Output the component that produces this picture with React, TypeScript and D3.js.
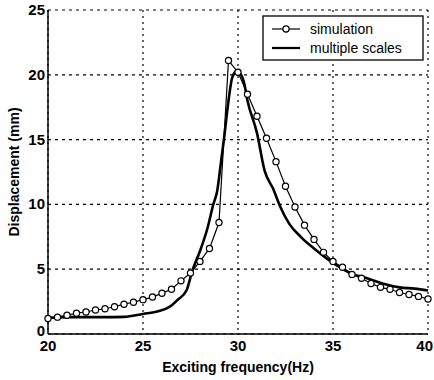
import React from "react";
import * as d3 from "d3";

const simFreq = [20,20.5,21,21.5,22,22.5,23,23.5,24,24.5,25,25.5,26,26.5,27,27.5,28,28.5,29,29.5,30,30.5,31,31.5,32,32.5,33,33.5,34,34.5,35,35.5,36,36.5,37,37.5,38,38.5,39,39.5,40];
const simDisp = [1.2,1.3,1.45,1.6,1.7,1.85,1.95,2.1,2.3,2.45,2.65,2.85,3.15,3.45,4.1,4.7,5.6,6.6,8.6,21.1,20.2,18.5,16.8,15.1,13.3,11.4,9.8,8.4,7.3,6.3,5.6,5.15,4.6,4.3,3.9,3.6,3.45,3.2,3.05,2.9,2.7];

const msFreq = [20,21,22,23,24,25,25.8,26.5,26.8,27.3,27.6,28,28.4,28.7,28.9,29.1,29.3,29.5,29.7,29.95,30.3,30.5,31,31.4,31.85,32.2,32.7,33.3,34,34.7,35.2,35.9,36.8,37.6,38.5,39.3,40];
const msDisp = [1.25,1.3,1.3,1.3,1.32,1.55,1.75,2.2,2.6,3.4,4.9,6.4,8.2,10,11,13.2,15.5,18,19.8,20.3,19.5,18,15.5,12.6,11.2,9.9,8.5,7.5,6.6,5.8,5.3,4.7,4.3,3.9,3.6,3.5,3.35];

const xTicks = [20,25,30,35,40];
const yTicks = [0,5,10,15,20,25];

const W = 434, H = 380;
const left = 48, right = 428, top = 10, bottom = 334;

export default function App() {
  const x = d3.scaleLinear().domain([20, 40]).range([left, right]);
  const y = d3.scaleLinear().domain([0, 25]).range([bottom, top]);
  const lineGen = d3.line<[number, number]>().x(d => x(d[0])).y(d => y(d[1]));
  const smoothGen = d3.line<[number, number]>().x(d => x(d[0])).y(d => y(d[1])).curve(d3.curveMonotoneX);
  const simPts: [number, number][] = simFreq.map((f, i) => [f, simDisp[i]]);
  const msPts: [number, number][] = msFreq.map((f, i) => [f, msDisp[i]]);
  const font = "Liberation Sans, Arial, sans-serif";
  return (
    <svg width={W} height={H} style={{ position: "absolute", left: 0, top: 0, background: "#fff" }}>
      <rect x={0} y={0} width={W} height={H} fill="#fff" />
      {xTicks.map(t => (
        <line key={"gx" + t} x1={x(t)} x2={x(t)} y1={top} y2={bottom} stroke="#000" strokeWidth={1.2} strokeDasharray="2,4" />
      ))}
      {yTicks.map(t => (
        <line key={"gy" + t} x1={left} x2={right} y1={y(t)} y2={y(t)} stroke="#000" strokeWidth={1.2} strokeDasharray="3,4" />
      ))}
      <line x1={left} x2={left} y1={top} y2={bottom} stroke="#000" strokeWidth={1.5} />
      <line x1={left} x2={right} y1={bottom} y2={bottom} stroke="#000" strokeWidth={1.5} />
      {yTicks.map(t => (
        <text key={"ty" + t} x={left - 3} y={y(t) + (t === 0 ? 2 : 5)} textAnchor="end" fontFamily={font} fontWeight="bold" fontSize={15} fill="#000">{t}</text>
      ))}
      {xTicks.map((t, i) => (
        <text key={"tx" + t} x={i === xTicks.length - 1 ? W - 1 : x(t)} y={bottom + 17} textAnchor={i === xTicks.length - 1 ? "end" : "middle"} fontFamily={font} fontWeight="bold" fontSize={15} fill="#000">{t}</text>
      ))}
      <text x={(left + right) / 2} y={372} textAnchor="middle" fontFamily={font} fontWeight="bold" fontSize={14} fill="#000">Exciting frequency(Hz)</text>
      <text transform={`translate(19,${(top + bottom) / 2}) rotate(-90)`} textAnchor="middle" fontFamily={font} fontWeight="bold" fontSize={14} fill="#000">Displacement (mm)</text>
      <path d={smoothGen(msPts) || ""} fill="none" stroke="#000" strokeWidth={2.6} />
      <path d={lineGen(simPts) || ""} fill="none" stroke="#000" strokeWidth={1.2} />
      {simPts.map((d, i) => (
        <circle key={"c" + i} cx={x(d[0])} cy={y(d[1])} r={3.1} fill="#fff" stroke="#000" strokeWidth={1.2} />
      ))}
      <rect x={263} y={16} width={160} height={44} fill="#fff" stroke="#000" strokeWidth={1.3} />
      <line x1={272} x2={300} y1={29} y2={29} stroke="#000" strokeWidth={1.2} />
      <circle cx={286} cy={29} r={3.1} fill="#fff" stroke="#000" strokeWidth={1.2} />
      <text x={310} y={34} fontFamily={font} fontSize={14} fill="#000">simulation</text>
      <line x1={272} x2={300} y1={48} y2={48} stroke="#000" strokeWidth={2.2} />
      <text x={310} y={53} fontFamily={font} fontSize={14} fill="#000">multiple scales</text>
    </svg>
  );
}
